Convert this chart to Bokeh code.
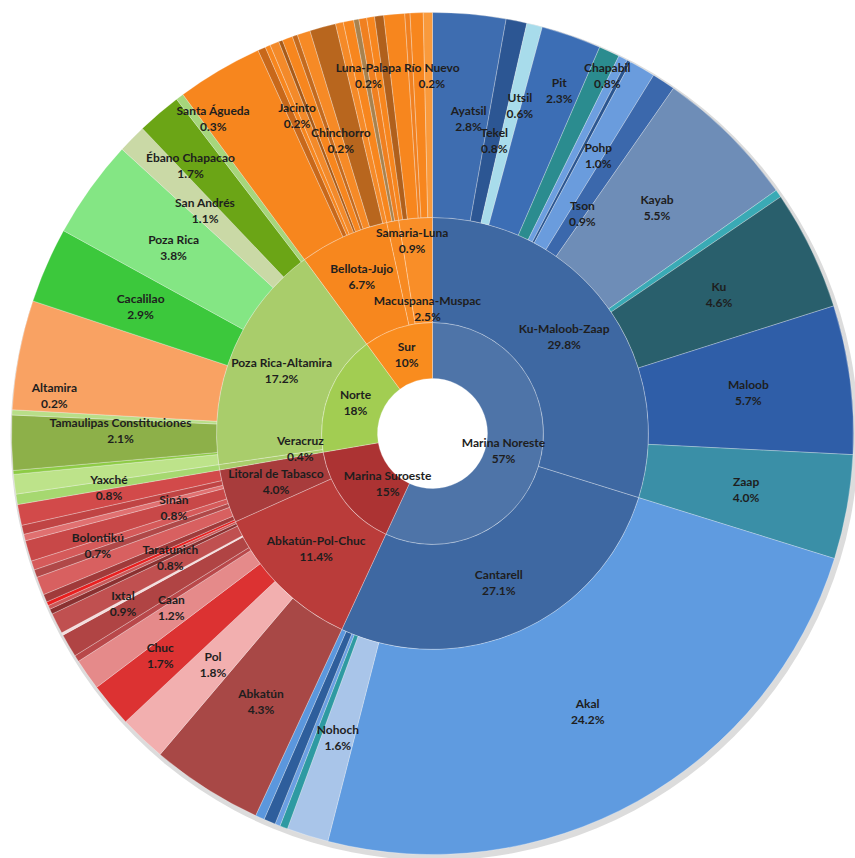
import math
from bokeh.plotting import figure
from bokeh.models import Range1d, ColumnDataSource
from bokeh.core.properties import value
from bokeh.embed import file_html
from bokeh.resources import INLINE

# ---------------- data (percent of total) ----------------
regions = ["Marina Noreste", "Marina Suroeste", "Norte", "Sur"]

assets = ["Ku-Maloob-Zaap", "Cantarell", "Abkatún-Pol-Chuc", "Litoral de Tabasco",
          "Veracruz", "Poza Rica-Altamira", "Bellota-Jujo", "Samaria-Luna", "Macuspana-Muspac"]
asset_region = ["Marina Noreste", "Marina Noreste", "Marina Suroeste", "Marina Suroeste",
                "Norte", "Norte", "Sur", "Sur", "Sur"]
asset_pct = [29.8, 27.1, 11.4, 4.0, 0.4, 17.2, 6.7, 0.9, 2.5]

kmz_names = ["Ayatsil", "Tekel", "Utsil", "Pit", "Chapabil", "", "", "Pohp", "Tson", "Kayab", "", "Ku", "Maloob", "Zaap"]
kmz_pct = [2.8, 0.8, 0.6, 2.3, 0.8, 0.35, 0.15, 1.0, 0.9, 5.5, 0.3, 4.6, 5.7, 4.0]

cant_names = ["Akal", "Nohoch", "", "", "", ""]
cant_pct = [24.2, 1.6, 0.3, 0.2, 0.45, 0.35]

apc_names = ["Abkatún", "Pol", "Chuc", "Caan", "", "Ixtal", "", "Taratunich", "", ""]
apc_pct = [4.3, 1.8, 1.7, 1.2, 0.25, 0.9, 0.1, 0.8, 0.2, 0.15]

lt_names = ["", "", "Bolontikú", "", "", "Sinán", "", "", "Yaxché"]
lt_pct = [0.15, 0.3, 0.7, 0.3, 0.35, 0.8, 0.25, 0.35, 0.8]

ver_names = [""]
ver_pct = [0.4]

pra_names = ["", "", "Tamaulipas Constituciones", "", "Altamira", "Cacalilao", "Poza Rica",
             "San Andrés", "Ébano Chapacao", "Santa Águeda"]
pra_pct = [0.75, 0.15, 2.1, 0.2, 4.2, 2.9, 3.8, 1.1, 1.7, 0.3]
pra_shown = {"Altamira": 0.2}   # percentage printed in the reference label

bj_names = ["", "", "Jacinto", "", "", "", "Chinchorro", "", "", ""]
bj_pct = [3.3, 0.3, 0.2, 0.35, 0.15, 0.4, 0.2, 0.5, 1.0, 0.3]

sl_names = ["", "Luna-Palapa", ""]
sl_pct = [0.4, 0.2, 0.3]

mm_names = ["", "", "", "Río Nuevo", "", ""]
mm_pct = [0.3, 0.35, 0.8, 0.2, 0.5, 0.35]

field_names = [kmz_names, cant_names, apc_names, lt_names, ver_names, pra_names, bj_names, sl_names, mm_names]
field_pct = [kmz_pct, cant_pct, apc_pct, lt_pct, ver_pct, pra_pct, bj_pct, sl_pct, mm_pct]

# ---------------- styles ----------------
region_colors = {"Marina Noreste": "#4E74A8", "Marina Suroeste": "#AC3333",
                 "Norte": "#A2CD52", "Sur": "#F98C1E"}
asset_colors = ["#3E68A2", "#3E68A2", "#BA3C3A", "#A83C3C", "#A9CD6B", "#A9CD6B",
                "#F7871E", "#F78A22", "#F98E28"]
field_colors = [
    ["#3E6DB0", "#2C5693", "#A8DCEB", "#3C6EB5", "#2B8C8F", "#6D9FE0", "#2A5590", "#6A9CDD",
     "#3B68AC", "#6E8DB7", "#3AAAB5", "#295F6C", "#2F5EA8", "#3A8FA7"],
    ["#5F9BE0", "#A9C5E9", "#2E9AA2", "#6A9FE2", "#2E5E9C", "#5B97DD"],
    ["#A84846", "#F2AFAF", "#DC3232", "#E58A8A", "#B9484A", "#B04444", "#F3DCDC", "#C05050",
     "#8A3030", "#C85858"],
    ["#E82020", "#A03A3A", "#D86060", "#B04848", "#D55A5A", "#C84848", "#E07070", "#C04444", "#D24A4A"],
    ["#A6D870"],
    ["#BDE38A", "#8DCB45", "#8DB049", "#B8DE88", "#F9A263", "#3CC83C", "#84E684", "#CAD9A6",
     "#6BA516", "#A6D67C"],
    ["#F7861E", "#C8681A", "#F7861E", "#F38A2A", "#A85A18", "#F7861E", "#C46A1E", "#F68A26",
     "#B8661E", "#F58A28"],
    ["#F7861E", "#A8824E", "#F08020"],
    ["#F7861E", "#B0601C", "#F7861E", "#F08020", "#F7861E", "#F99A3C"],
]

RADII = [55, 111, 216, 421]
# label placement tweaks: name -> (angle shift in degrees, radius)
label_adjust = {
    "Marina Noreste": (1, 73), "Marina Suroeste": (-10.5, 67),
    "Veracruz": (2.5, 133), "Bellota-Jujo": (0, 172), "Samaria-Luna": (4.6, 194),
    "Macuspana-Muspac": (2.2, 125),
    "Ayatsil": (1.5, 317), "Tekel": (0.4, 299), "Utsil": (0.9, 339), "Pit": (1, 366),
    "Chapabil": (1.2, 398), "Pohp": (0.9, 324), "Tson": (1, 266),
    "Chuc": (1, 351), "Caan": (1.2, 314), "Ixtal": (1.5, 353), "Taratunich": (1.5, 290),
    "Bolontikú": (2.7, 353), "Sinán": (0.2, 269), "Yaxché": (1.7, 328),
    "Tamaulipas Constituciones": (1.8, 312), "Altamira": (-5.1, 380),
    "Ébano Chapacao": (-1.6, 361), "Santa Águeda": (2.1, 384),
    "Jacinto": (0, 346), "Chinchorro": (1.7, 307), "Luna-Palapa": (0.3, 364),
    "Río Nuevo": (3.3, 358),
}

# ---------------- geometry ----------------
W, H = 855, 858
CX, CY = 432, 433
p = figure(width=W, height=H, x_range=Range1d(-CX, W - CX), y_range=Range1d(-(H - CY), CY),
           output_backend="svg", toolbar_location=None, min_border=0,
           x_axis_location=None, y_axis_location=None)
p.grid.visible = False
p.outline_line_color = None
p.background_fill_color = "white"
p.border_fill_color = "white"

# soft shadow behind the outer ring
p.annular_wedge(x=2, y=-3, inner_radius=RADII[2], outer_radius=RADII[3] + 3,
                start_angle=0, end_angle=2 * math.pi, fill_color="#9a9a9a", fill_alpha=0.35,
                line_color=None)

wedges = {k: [] for k in ["inner", "outer", "start", "end", "color"]}
labels = {k: [] for k in ["x", "y", "t"]}


def add_wedge(level, t0, t1, color):
    wedges["inner"].append(RADII[level])
    wedges["outer"].append(RADII[level + 1])
    wedges["start"].append(math.radians(90 - t1))
    wedges["end"].append(math.radians(90 - t0))
    wedges["color"].append(color)


def add_label(level, name, t0, t1, pct_text):
    dt, r = label_adjust.get(name, (0, (RADII[level] + RADII[level + 1]) / 2))
    th = math.radians((t0 + t1) / 2 + dt)
    x, y = r * math.sin(th), r * math.cos(th)
    labels["x"] += [x, x]
    labels["y"] += [y + 8, y - 8]
    labels["t"] += [name, pct_text]


deg = 3.6
# inner ring
t = 0.0
for reg in regions:
    v = sum(a for a, r in zip(asset_pct, asset_region) if r == reg)
    add_wedge(0, t, t + v * deg, region_colors[reg])
    add_label(0, reg, t, t + v * deg, f"{round(v):.0f}%")
    t += v * deg

# middle and outer rings
t = 0.0
for i, a in enumerate(assets):
    v = asset_pct[i]
    add_wedge(1, t, t + v * deg, asset_colors[i])
    add_label(1, a, t, t + v * deg, f"{v:.1f}%")
    tf = t
    for j, (fn, fv) in enumerate(zip(field_names[i], field_pct[i])):
        add_wedge(2, tf, tf + fv * deg, field_colors[i][j])
        if fn:
            shown = pra_shown.get(fn, fv)
            add_label(2, fn, tf, tf + fv * deg, f"{shown:.1f}%")
        tf += fv * deg
    t += v * deg

src = ColumnDataSource(wedges)
p.annular_wedge(x=0, y=0, inner_radius="inner", outer_radius="outer",
                start_angle="start", end_angle="end", fill_color="color",
                line_color="white", line_alpha=0.35, line_width=0.8, source=src)

lsrc = ColumnDataSource(labels)
p.text(x="x", y="y", text="t", source=lsrc, text_font=value("Lato"), text_font_style="bold",
       text_font_size="12px", text_color="#1e1e1e", text_align="center", text_baseline="middle")

open("out.html", "w").write(file_html(p, INLINE))
